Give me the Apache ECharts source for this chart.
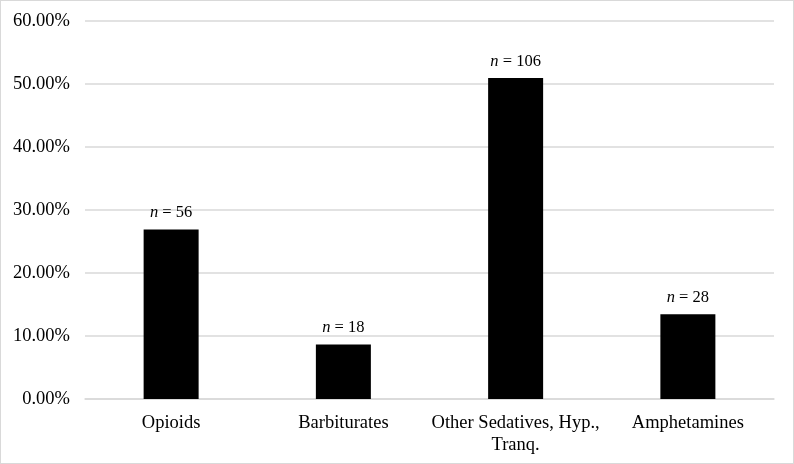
<!DOCTYPE html>
<html><head><meta charset="utf-8">
<script src="https://cdn.jsdelivr.net/npm/echarts@6/dist/echarts.min.js"></script>
<style>html,body{margin:0;padding:0;background:#fff}#c{width:794px;height:464px;box-sizing:border-box;border:1.5px solid #d9d9d9}</style>
</head><body><div id="c"></div>
<script>
const categories = ['Opioids', 'Barbiturates', 'Other Sedatives, Hyp.,\nTranq.', 'Amphetamines'];
const percentValues = [26.92, 8.65, 50.96, 13.46];
const counts = [56, 18, 106, 28];
const yTicks = [0, 10, 20, 30, 40, 50, 60];

const font = 'Liberation Serif';
const chart = echarts.init(document.getElementById('c'));
chart.setOption({
  animation: false,
  grid: { left: 84, right: 19, top: 20, bottom: 64 },
  xAxis: {
    type: 'category', data: categories,
    axisLine: { lineStyle: { color: '#d9d9d9', width: 1.5 } },
    axisTick: { show: false },
    axisLabel: { interval: 0, color: '#000', fontFamily: font, fontSize: 18.5, margin: 13, lineHeight: 22 }
  },
  yAxis: {
    type: 'value', min: yTicks[0], max: yTicks[yTicks.length - 1], interval: 10,
    axisLine: { show: false }, axisTick: { show: false },
    splitLine: { lineStyle: { color: '#d9d9d9', width: 1.5 } },
    axisLabel: { color: '#000', fontFamily: font, fontSize: 18.5, margin: 15,
      formatter: v => v.toFixed(2) + '%' }
  },
  series: [{
    type: 'bar', data: percentValues, barWidth: 55,
    itemStyle: { color: '#000' },
    label: {
      show: true, position: 'top', distance: 8,
      formatter: p => '{i|n} = ' + counts[p.dataIndex],
      color: '#000', fontFamily: font, fontSize: 16.5,
      rich: { i: { fontStyle: 'italic', fontFamily: font, fontSize: 16.5, color: '#000' } }
    }
  }]
});
</script></body></html>
